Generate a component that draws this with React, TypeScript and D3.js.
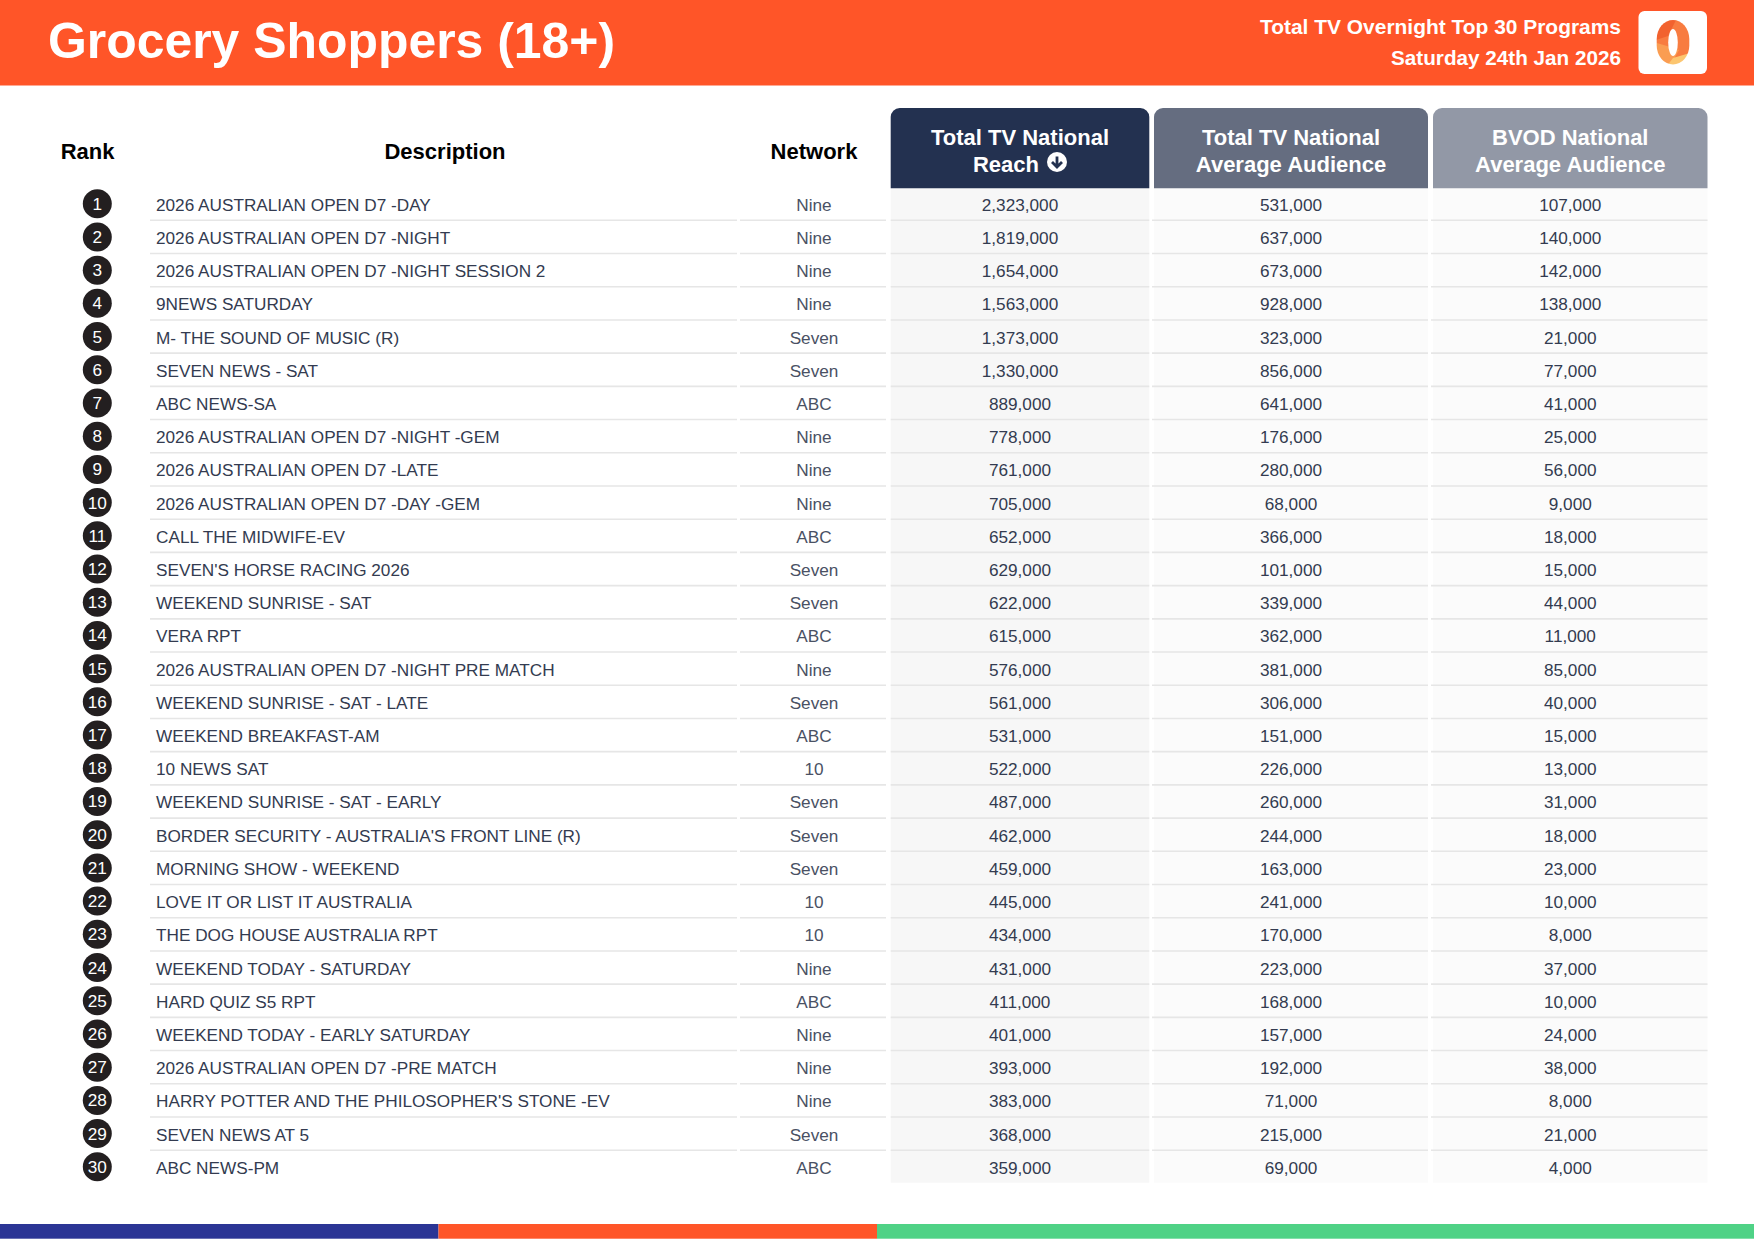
import * as d3 from "d3";

const ranks = d3.range(1, 31);
const descriptions = [
  "2026 AUSTRALIAN OPEN D7 -DAY",
  "2026 AUSTRALIAN OPEN D7 -NIGHT",
  "2026 AUSTRALIAN OPEN D7 -NIGHT SESSION 2",
  "9NEWS SATURDAY",
  "M- THE SOUND OF MUSIC (R)",
  "SEVEN NEWS - SAT",
  "ABC NEWS-SA",
  "2026 AUSTRALIAN OPEN D7 -NIGHT -GEM",
  "2026 AUSTRALIAN OPEN D7 -LATE",
  "2026 AUSTRALIAN OPEN D7 -DAY -GEM",
  "CALL THE MIDWIFE-EV",
  "SEVEN'S HORSE RACING 2026",
  "WEEKEND SUNRISE - SAT",
  "VERA RPT",
  "2026 AUSTRALIAN OPEN D7 -NIGHT PRE MATCH",
  "WEEKEND SUNRISE - SAT - LATE",
  "WEEKEND BREAKFAST-AM",
  "10 NEWS SAT",
  "WEEKEND SUNRISE - SAT - EARLY",
  "BORDER SECURITY - AUSTRALIA'S FRONT LINE (R)",
  "MORNING SHOW - WEEKEND",
  "LOVE IT OR LIST IT AUSTRALIA",
  "THE DOG HOUSE AUSTRALIA RPT",
  "WEEKEND TODAY - SATURDAY",
  "HARD QUIZ S5 RPT",
  "WEEKEND TODAY - EARLY SATURDAY",
  "2026 AUSTRALIAN OPEN D7 -PRE MATCH",
  "HARRY POTTER AND THE PHILOSOPHER'S STONE -EV",
  "SEVEN NEWS AT 5",
  "ABC NEWS-PM",
];
const networks = [
  "Nine", "Nine", "Nine", "Nine", "Seven", "Seven", "ABC", "Nine", "Nine", "Nine",
  "ABC", "Seven", "Seven", "ABC", "Nine", "Seven", "ABC", "10", "Seven", "Seven",
  "Seven", "10", "10", "Nine", "ABC", "Nine", "Nine", "Nine", "Seven", "ABC",
];
const reach = [
  2323000, 1819000, 1654000, 1563000, 1373000, 1330000, 889000, 778000, 761000, 705000,
  652000, 629000, 622000, 615000, 576000, 561000, 531000, 522000, 487000, 462000,
  459000, 445000, 434000, 431000, 411000, 401000, 393000, 383000, 368000, 359000,
];
const avgAudience = [
  531000, 637000, 673000, 928000, 323000, 856000, 641000, 176000, 280000, 68000,
  366000, 101000, 339000, 362000, 381000, 306000, 151000, 226000, 260000, 244000,
  163000, 241000, 170000, 223000, 168000, 157000, 192000, 71000, 215000, 69000,
];
const bvodAudience = [
  107000, 140000, 142000, 138000, 21000, 77000, 41000, 25000, 56000, 9000,
  18000, 15000, 44000, 11000, 85000, 40000, 15000, 13000, 31000, 18000,
  23000, 10000, 8000, 37000, 10000, 24000, 38000, 8000, 21000, 4000,
];

const W = 1754;
const H = 1241;
const ORANGE = "#ff5528";
const FONT = "'Liberation Sans', Arial, sans-serif";
const BODY_SIZE = 17.2;

const y = d3.scaleBand<number>().domain(ranks).range([187.1, 1183.4]);
const fmt = d3.format(",");

const metricCols = [
  { key: "reach", x0: 890.7, x1: 1149.3, head: "#233150", bg: "#f7f7f7", lines: ["Total TV National", "Reach"], values: reach },
  { key: "avg", x0: 1154, x1: 1428, head: "#656d80", bg: "#fbfbfb", lines: ["Total TV National", "Average Audience"], values: avgAudience },
  { key: "bvod", x0: 1433, x1: 1707.5, head: "#9298a6", bg: "#fbfbfb", lines: ["BVOD National", "Average Audience"], values: bvodAudience },
];

// header tab with rounded top corners only
function tabPath(x0: number, x1: number, y0: number, y1: number, r: number) {
  const p = d3.path();
  p.moveTo(x0, y1);
  p.lineTo(x0, y0 + r);
  p.arcTo(x0, y0, x0 + r, y0, r);
  p.lineTo(x1 - r, y0);
  p.arcTo(x1, y0, x1, y0 + r, r);
  p.lineTo(x1, y1);
  p.closePath();
  return p.toString();
}

function Logo() {
  return (
    <g>
      <rect x={1638.5} y={11} width={68.5} height={63} rx={6} fill="#fff" />
      <defs>
        <mask id="zero">
          <rect x={1656.7} y={20} width={32.6} height={44.5} rx={16.3} ry={19} fill="#fff" />
          <ellipse cx={1673} cy={42.5} rx={4.8} ry={13.5} fill="#000" />
        </mask>
      </defs>
      <g mask="url(#zero)">
        <rect x={1650} y={15} width={46} height={55} fill="#f2622e" />
        <path d="M1676 20 L1695 30 L1695 70 L1650 70 L1650 42 L1668 36 Z" fill="#f87c40" />
        <path d="M1650 41 L1667 46 L1679 50 L1668 70 L1650 70 Z" fill="#fa9d52" />
        <path d="M1664 70 L1673 58 L1690 53 L1690 70 Z" fill="#fcc670" />
      </g>
    </g>
  );
}

export default function App() {
  return (
    <svg width={W} height={H} viewBox={`0 0 ${W} ${H}`} style={{ position: "absolute", left: 0, top: 0, fontFamily: FONT }}>
      <rect width={W} height={H} fill="#fff" />
      <rect width={W} height={85.5} fill={ORANGE} />
      <text x={48} y={58} fontSize={49.9} fontWeight={700} fill="#fff">Grocery Shoppers (18+)</text>
      <text x={1621} y={33.8} fontSize={20.95} fontWeight={700} fill="#fff" textAnchor="end">Total TV Overnight Top 30 Programs</text>
      <text x={1621} y={64.5} fontSize={20.7} fontWeight={700} fill="#fff" textAnchor="end">Saturday 24th Jan 2026</text>
      <Logo />

      <g fontSize={22} fontWeight={700} fill="#000" textAnchor="middle">
        <text x={87.6} y={159}>Rank</text>
        <text x={445} y={159}>Description</text>
        <text x={814} y={159}>Network</text>
      </g>

      {metricCols.map((c) => (
        <g key={c.key}>
          <rect x={c.x0} y={188} width={c.x1 - c.x0} height={994.7} fill={c.bg} />
          <path d={tabPath(c.x0, c.x1, 108, 188.3, 9)} fill={c.head} />
          <text x={(c.x0 + c.x1) / 2} y={145} fontSize={22} fontWeight={700} fill="#fff" textAnchor="middle">{c.lines[0]}</text>
          <text x={(c.x0 + c.x1) / 2 - (c.key === "reach" ? 14 : 0)} y={171.5} fontSize={22} fontWeight={700} fill="#fff" textAnchor="middle">{c.lines[1]}</text>
        </g>
      ))}
      {/* sort arrow next to Reach */}
      <g transform="translate(1057,162)">
        <circle r={10} fill="#fff" />
        <path d="M0,-5.5 V4.5 M-5,0 L0,5 L5,0" fill="none" stroke="#233150" strokeWidth={2.8} />
      </g>

      {ranks.map((r, i) => {
        const top = y(r)!;
        const bottom = top + y.bandwidth();
        const mid = top + y.bandwidth() / 2;
        return (
          <g key={r}>
            {r < 30 && (
              <g stroke="#e6e6e6" strokeWidth={1.6}>
                <line x1={150} x2={737} y1={bottom} y2={bottom} />
                <line x1={740} x2={886} y1={bottom} y2={bottom} />
                <line x1={890.7} x2={1149.3} y1={bottom} y2={bottom} />
                <line x1={1152} x2={1428} y1={bottom} y2={bottom} />
                <line x1={1431} x2={1707.5} y1={bottom} y2={bottom} />
              </g>
            )}
            <circle cx={97.3} cy={mid} r={14.5} fill="#231f20" />
            <text x={97.3} y={mid + 6} fontSize={BODY_SIZE} fill="#fff" textAnchor="middle">{r}</text>
            <text x={156} y={mid + 7} fontSize={BODY_SIZE} fill="#333b50">{descriptions[i]}</text>
            <text x={814} y={mid + 7} fontSize={BODY_SIZE} fill="#4a5164" textAnchor="middle">{networks[i]}</text>
            {metricCols.map((c) => (
              <text key={c.key} x={(c.x0 + c.x1) / 2} y={mid + 7} fontSize={BODY_SIZE} fill="#333b50" textAnchor="middle">{fmt(c.values[i])}</text>
            ))}
          </g>
        );
      })}

      <g>
        <rect x={0} y={1224} width={438.5} height={14.7} fill="#2b3595" />
        <rect x={438.5} y={1224} width={438.5} height={14.7} fill={ORANGE} />
        <rect x={877} y={1224} width={877} height={14.7} fill="#4fd286" />
      </g>
    </svg>
  );
}
